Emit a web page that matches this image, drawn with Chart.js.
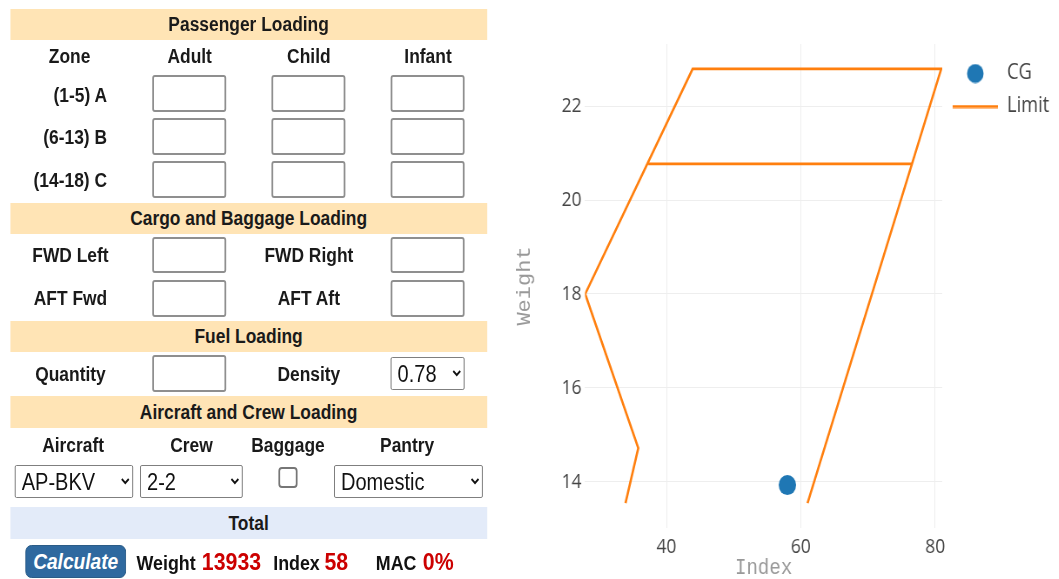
<!DOCTYPE html>
<html>
<head>
<meta charset="utf-8">
<title>Weight and Balance</title>
<script src="https://cdn.jsdelivr.net/npm/chart.js@4.4.1/dist/chart.umd.min.js"></script>
<style>
  html, body { margin: 0; padding: 0; background: #fff; overflow: hidden; }
  /* the reference is a slightly squeezed screenshot, so the page is laid out wider and scaled */
  #page { position: absolute; left: 0; top: 0; width: 1217px; height: 579px;
          transform: scaleX(0.87); transform-origin: 0 0;
          font-family: "Liberation Sans", Arial, sans-serif; color: #1a1a1a; }
  .bar { position: absolute; left: 11.5px; width: 548.5px; background: #ffe4b5;
         text-align: center; font-weight: bold; font-size: 20px; }
  .bar.total { background: #e3ebf9; }
  .lbl { position: absolute; width: 200px; text-align: center; font-weight: bold;
         font-size: 20px; line-height: 24px; }
  .rl { position: absolute; left: 0; width: 123px; text-align: right; font-weight: bold;
        font-size: 20px; line-height: 24px; }
  .box { position: absolute; box-sizing: border-box; width: 85px; height: 37px; margin: 0; padding: 0;
         border: 2px solid #8f8f8f; border-radius: 3px; background: #fff; }
  .sel { position: absolute; box-sizing: border-box; height: 33px; margin: 0; padding: 0 0 0 3px;
         font-family: "Liberation Sans", Arial, sans-serif; font-size: 23px; color: #111;
         border: 1px solid #767676; border-radius: 2px; background: #fff; }
  .chk { position: absolute; left: 320px; top: 467px; width: 22px; height: 21px; margin: 0;
         -webkit-appearance: none; appearance: none; box-sizing: border-box;
         border: 2px solid #767676; border-radius: 4px; background: #fff; }
  .btn { position: absolute; left: 29px; top: 545px; width: 116px; height: 33px; box-sizing: border-box;
         background: #2f699f; border: 1px solid #245783; border-radius: 7px; color: #fff;
         font-weight: bold; font-style: italic; font-size: 22px; line-height: 31px; text-align: center; }
  .tl { position: absolute; font-weight: bold; font-size: 20.5px; line-height: 24px; color: #111; white-space: nowrap; }
  .tv { position: absolute; font-weight: bold; font-size: 24.5px; line-height: 28px; color: #cc0000; white-space: nowrap; }
  #wb { position: absolute; left: 575px; top: 0; }
</style>
</head>
<body>
<div id="page">
  <div class="bar" style="top:9px;height:31px;line-height:31px;">Passenger Loading</div>
  <div class="lbl" style="left:-20px;top:44px;">Zone</div>
  <div class="lbl" style="left:118px;top:44px;">Adult</div>
  <div class="lbl" style="left:255px;top:44px;">Child</div>
  <div class="lbl" style="left:392px;top:44px;">Infant</div>

  <div class="rl" style="top:83px;">(1-5) A</div>
  <div class="rl" style="top:125px;">(6-13) B</div>
  <div class="rl" style="top:168px;">(14-18) C</div>
  <input class="box" style="left:175px;top:75px;"><input class="box" style="left:311.5px;top:75px;"><input class="box" style="left:449px;top:75px;">
  <input class="box" style="left:175px;top:118px;"><input class="box" style="left:311.5px;top:118px;"><input class="box" style="left:449px;top:118px;">
  <input class="box" style="left:175px;top:161px;"><input class="box" style="left:311.5px;top:161px;"><input class="box" style="left:449px;top:161px;">

  <div class="bar" style="top:203px;height:31px;line-height:31px;">Cargo and Baggage Loading</div>
  <div class="lbl" style="left:-19px;top:243px;">FWD Left</div>
  <div class="lbl" style="left:255px;top:243px;">FWD Right</div>
  <div class="lbl" style="left:-19px;top:286px;">AFT Fwd</div>
  <div class="lbl" style="left:255px;top:286px;">AFT Aft</div>
  <input class="box" style="left:175px;top:237px;height:36px;"><input class="box" style="left:449px;top:237px;height:36px;">
  <input class="box" style="left:175px;top:280px;"><input class="box" style="left:449px;top:280px;">

  <div class="bar" style="top:321px;height:31px;line-height:31px;">Fuel Loading</div>
  <div class="lbl" style="left:-19px;top:362px;">Quantity</div>
  <div class="lbl" style="left:255px;top:362px;">Density</div>
  <input class="box" style="left:175px;top:355px;">
  <select class="sel" style="left:449px;top:357px;width:85px;"><option>0.78</option></select>

  <div class="bar" style="top:396px;height:32px;line-height:32px;">Aircraft and Crew Loading</div>
  <div class="lbl" style="left:-16px;top:433px;">Aircraft</div>
  <div class="lbl" style="left:120px;top:433px;">Crew</div>
  <div class="lbl" style="left:231px;top:433px;">Baggage</div>
  <div class="lbl" style="left:368px;top:433px;">Pantry</div>
  <select class="sel" style="left:17px;top:465px;width:136px;"><option>AP-BKV</option></select>
  <select class="sel" style="left:161px;top:465px;width:118px;"><option>2-2</option></select>
  <input type="checkbox" class="chk">
  <select class="sel" style="left:384px;top:465px;width:171px;"><option>Domestic</option></select>

  <div class="bar total" style="top:507px;height:32px;line-height:32px;">Total</div>
  <div class="btn">Calculate</div>
  <span class="tl" style="left:157px;top:551px;">Weight</span>
  <span class="tv" style="left:232px;top:548px;">13933</span>
  <span class="tl" style="left:314px;top:551px;">Index</span>
  <span class="tv" style="left:373px;top:548px;">58</span>
  <span class="tl" style="left:432px;top:551px;">MAC</span>
  <span class="tv" style="left:486px;top:548px;">0%</span>

  <canvas id="wb" width="642" height="579"></canvas>
</div>

<script>
// CG point (weight in thousands)
var cgIndex = [58];
var cgWeight = [13.933];

// envelope limit, null splits the line
var limitIndex  = [33.9, 35.8, 27.9, 43.9, 80.9, 61.0, null, 37.3, 76.6];
var limitWeight = [13.55, 14.72, 18.0, 22.79, 22.79, 13.55, null, 20.77, 20.77];

var xTicks = [40, 60, 80];
var yTicks = [14, 16, 18, 20, 22];

var cgColor = "#1f77b4";
var limitColor = "#ff7f0e";

function pairs(xs, ys) {
	var out = [];
	for (var i = 0; i < xs.length; i++) {
		out.push({ x: xs[i], y: ys[i] });
	}
	return out;
}

// little pictures for the legend
function legendMark(kind) {
	var c = document.createElement("canvas");
	var g;
	if (kind === "dot") {
		c.width = 20; c.height = 20;
		g = c.getContext("2d");
		g.fillStyle = cgColor;
		g.beginPath();
		g.arc(10, 10, 9.5, 0, Math.PI * 2);
		g.fill();
	} else {
		c.width = 52; c.height = 4;
		g = c.getContext("2d");
		g.fillStyle = limitColor;
		g.fillRect(0, 0.5, 52, 3);
	}
	return c;
}
var dotMark = legendMark("dot");
var lineMark = legendMark("line");

var tickFont = { family: "Open Sans", size: 20 };
var titleFont = { family: "Liberation Mono", size: 22, lineHeight: 1 };

var ctx = document.getElementById("wb");

var chart = new Chart(ctx, {
	type: "scatter",
	data: {
		datasets: [
			{
				label: "CG",
				data: pairs(cgIndex, cgWeight),
				backgroundColor: cgColor,
				borderWidth: 0,
				pointRadius: 10,
				pointHoverRadius: 10
			},
			{
				label: "Limit",
				data: pairs(limitIndex, limitWeight),
				showLine: true,
				spanGaps: false,
				borderColor: limitColor,
				backgroundColor: limitColor,
				borderWidth: 2.6,
				pointRadius: 0,
				pointHoverRadius: 0,
				fill: false,
				tension: 0
			}
		]
	},
	options: {
		responsive: false,
		animation: false,
		layout: { padding: { top: 44, left: 0, right: 1, bottom: 0 } },
		plugins: {
			tooltip: { enabled: false },
			legend: {
				position: "right",
				align: "start",
				// empty title only pushes the items down a little
				title: { display: true, text: " ", font: { size: 1, lineHeight: 1 }, padding: { top: 6, bottom: 0 } },
				labels: {
					usePointStyle: true,
					pointStyleWidth: 52,
					padding: 12,
					color: "#444",
					font: { family: "Open Sans", size: 21 },
					generateLabels: function(chart) {
						var items = Chart.defaults.plugins.legend.labels.generateLabels(chart);
						items[0].pointStyle = dotMark;
						items[1].pointStyle = lineMark;
						items[0].fontColor = "#444";
						items[1].fontColor = "#444";
						return items;
					}
				}
			}
		},
		scales: {
			x: {
				type: "linear",
				min: 27.87,
				max: 81.05,
				afterBuildTicks: function(s) { s.ticks = xTicks.map(function(v) { return { value: v }; }); },
				afterFit: function(s) { s.height = 51; },
				grid: { color: "#eeeeee", lineWidth: 1, drawTicks: false },
				border: { display: false },
				ticks: { color: "#444", font: tickFont, padding: 7 },
				title: { display: true, text: "Index", color: "#999", font: titleFont, padding: 0 }
			},
			y: {
				type: "linear",
				min: 13.02,
				max: 23.32,
				afterBuildTicks: function(s) { s.ticks = yTicks.map(function(v) { return { value: v }; }); },
				afterFit: function(s) { s.width = 97.4; },
				grid: { color: "#eeeeee", lineWidth: 1, drawTicks: false },
				border: { display: false },
				ticks: { color: "#444", font: tickFont, padding: 4 },
				title: { display: true, text: "Weight", color: "#999", font: titleFont, padding: { top: 17, bottom: 0 } }
			}
		}
	}
});
</script>
</body>
</html>
